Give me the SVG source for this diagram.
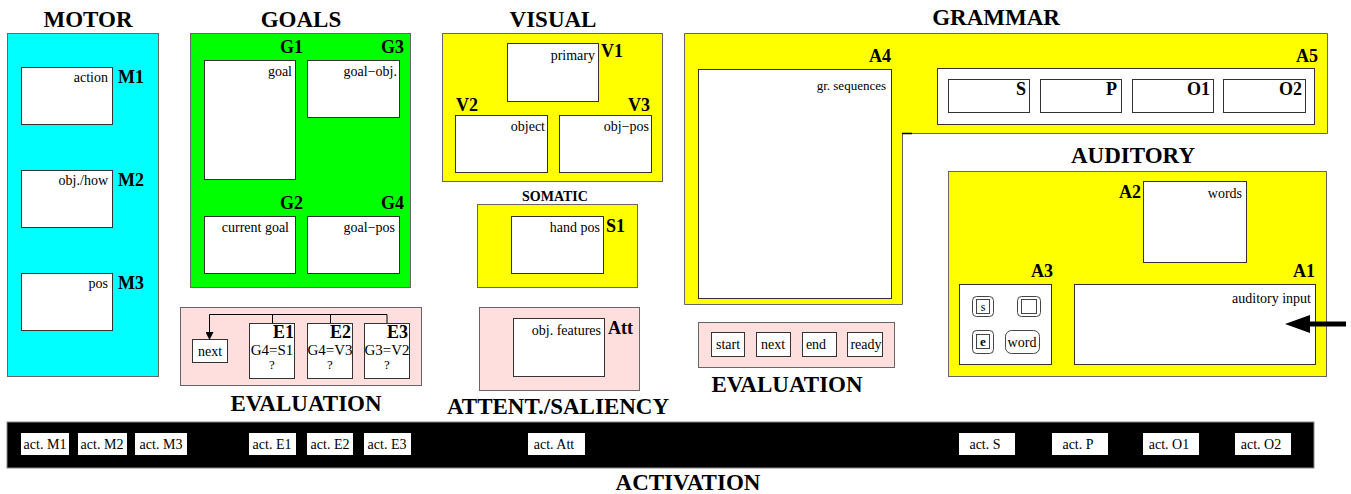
<svg xmlns="http://www.w3.org/2000/svg" width="1351" height="494" viewBox="0 0 1351 494">
<style>
text{font-family:'Liberation Serif','Times New Roman',serif}
.t{font-weight:bold;font-size:23px;fill:#000;text-anchor:middle}
.lb{font-weight:bold;font-size:18px;fill:#000}
.sm{font-size:14px;fill:#000}
.w{fill:#fff;stroke:#333;stroke-width:1}
.cy{fill:#00ffff;stroke:#666;stroke-width:1}
.gr{fill:#00ff00;stroke:#666;stroke-width:1}
.ye{fill:#ffff00;stroke:#666;stroke-width:1}
.pk{fill:#ffdede;stroke:#666;stroke-width:1}
.r{text-anchor:end}
.m{text-anchor:middle}
</style>
<defs>
<marker id="ah" markerWidth="8" markerHeight="8" refX="7" refY="4" orient="auto" markerUnits="userSpaceOnUse">
<path d="M0,0 L8,4 L0,8 Z" fill="#000"/>
</marker>
</defs>

<g id="motor">
<text class="t" x="88" y="27">MOTOR</text>
<rect class="cy" x="7.5" y="33.5" width="151" height="343"/>
<rect class="w" x="21.5" y="67.5" width="91" height="57"/>
<text class="sm r" x="108" y="82">action</text>
<text class="lb" x="118" y="83">M1</text>
<rect class="w" x="21.5" y="170.5" width="91" height="57"/>
<text class="sm r" x="108" y="185">obj./how</text>
<text class="lb" x="118" y="186">M2</text>
<rect class="w" x="21.5" y="273.5" width="91" height="57"/>
<text class="sm r" x="108" y="288">pos</text>
<text class="lb" x="118" y="289">M3</text>
</g>

<g id="goals">
<text class="t" x="301" y="27">GOALS</text>
<rect class="gr" x="190.5" y="33.5" width="220" height="254"/>
<text class="lb r" x="303" y="53">G1</text>
<text class="lb r" x="404" y="53">G3</text>
<rect class="w" x="204.5" y="60.5" width="91" height="119"/>
<text class="sm r" x="292" y="76">goal</text>
<rect class="w" x="307.5" y="60.5" width="92" height="57"/>
<text class="sm r" x="397" y="76">goal−obj.</text>
<text class="lb r" x="303" y="209">G2</text>
<text class="lb r" x="404" y="209">G4</text>
<rect class="w" x="204.5" y="216.5" width="91" height="57"/>
<text class="sm r" x="289" y="232">current goal</text>
<rect class="w" x="307.5" y="216.5" width="92" height="57"/>
<text class="sm r" x="395" y="232">goal−pos</text>
</g>

<g id="evaluation-left">
<rect class="pk" x="180.5" y="307.5" width="241" height="78"/>
<rect class="w" x="192.5" y="339.5" width="35" height="23"/>
<text class="sm m" x="210" y="356">next</text>
<rect class="w" x="249.5" y="323.5" width="45" height="55"/>
<text class="lb r" x="294" y="338">E1</text>
<text class="sm m" x="272" y="355" style="font-size:15px">G4=S1</text>
<text class="sm m" x="272" y="369" style="font-size:13px">?</text>
<rect class="w" x="307.5" y="323.5" width="45" height="55"/>
<text class="lb r" x="351" y="338">E2</text>
<text class="sm m" x="330" y="355" style="font-size:15px">G4=V3</text>
<text class="sm m" x="330" y="369" style="font-size:13px">?</text>
<rect class="w" x="364.5" y="323.5" width="45" height="55"/>
<text class="lb r" x="408" y="338">E3</text>
<text class="sm m" x="387" y="355" style="font-size:15px">G3=V2</text>
<text class="sm m" x="387" y="369" style="font-size:13px">?</text>
<text class="t" x="306" y="411">EVALUATION</text>
</g>

<g id="visual">
<text class="t" x="553" y="27">VISUAL</text>
<rect class="ye" x="442.5" y="33.5" width="220" height="148"/>
<rect class="w" x="507.5" y="43.5" width="91" height="58"/>
<text class="sm r" x="595" y="60">primary</text>
<text class="lb" x="601" y="57">V1</text>
<text class="lb" x="456" y="111">V2</text>
<text class="lb r" x="650" y="111">V3</text>
<rect class="w" x="455.5" y="115.5" width="92" height="57"/>
<text class="sm r" x="545" y="131">object</text>
<rect class="w" x="559.5" y="115.5" width="92" height="57"/>
<text class="sm r" x="649" y="131">obj−pos</text>
</g>

<g id="somatic">
<text class="t" x="555" y="201" style="font-size:14px">SOMATIC</text>
<rect class="ye" x="477.5" y="204.5" width="160" height="83"/>
<rect class="w" x="511.5" y="216.5" width="92" height="57"/>
<text class="sm r" x="600" y="232">hand pos</text>
<text class="lb" x="606" y="232">S1</text>
</g>

<g id="attention">
<rect class="pk" x="479.5" y="307.5" width="160" height="83"/>
<rect class="w" x="513.5" y="318.5" width="91" height="58"/>
<text class="sm r" x="601" y="335">obj. features</text>
<text class="lb" x="608" y="334">Att</text>
<text class="t" x="558" y="414">ATTENT./SALIENCY</text>
</g>

<g id="grammar">
<text class="t" x="996" y="25">GRAMMAR</text>
<polygon class="ye" points="684.5,33.5 1327.5,33.5 1327.5,133.5 902.5,133.5 902.5,304.5 684.5,304.5"/>
<line x1="902" y1="133.5" x2="912" y2="133.5" stroke="#000" stroke-width="1.5"/>
<text class="lb r" x="891" y="62">A4</text>
<rect class="w" x="698.5" y="69.5" width="193" height="229"/>
<text class="sm r" x="886" y="90" style="font-size:13px">gr. sequences</text>
<text class="lb r" x="1318" y="62">A5</text>
<rect class="w" x="937.5" y="68.5" width="377" height="56"/>
<rect class="w" x="948.5" y="79.5" width="81" height="33"/>
<text class="lb r" x="1026" y="95">S</text>
<rect class="w" x="1040.5" y="79.5" width="81" height="33"/>
<text class="lb r" x="1117" y="95">P</text>
<rect class="w" x="1132.5" y="79.5" width="81" height="33"/>
<text class="lb r" x="1210" y="95">O1</text>
<rect class="w" x="1223.5" y="79.5" width="82" height="33"/>
<text class="lb r" x="1302" y="95">O2</text>
</g>

<g id="auditory">
<text class="t" x="1133" y="163">AUDITORY</text>
<rect class="ye" x="948.5" y="171.5" width="378" height="205"/>
<text class="lb r" x="1141" y="198">A2</text>
<rect class="w" x="1143.5" y="181.5" width="103" height="81"/>
<text class="sm r" x="1242" y="198">words</text>
<text class="lb r" x="1053" y="277">A3</text>
<text class="lb r" x="1315" y="277">A1</text>
<rect class="w" x="959.5" y="284.5" width="92" height="80"/>
<rect class="w" x="1074.5" y="284.5" width="241" height="80"/>
<text class="sm r" x="1311" y="303">auditory input</text>
<rect x="972.5" y="296.5" width="21" height="20" rx="4" fill="#fff" stroke="#444"/>
<rect x="976.5" y="299.5" width="13" height="14" fill="#fff" stroke="#444"/>
<text class="sm m" x="983" y="311" style="font-size:12px">s</text>
<rect x="1017.5" y="296.5" width="23" height="20" rx="4" fill="#fff" stroke="#444"/>
<rect x="1021.5" y="299.5" width="15" height="14" fill="#fff" stroke="#444"/>
<rect x="972.5" y="330.5" width="21" height="23" rx="4" fill="#fff" stroke="#444"/>
<rect x="976.5" y="334.5" width="13" height="14" fill="#fff" stroke="#444"/>
<text class="sm m" x="983" y="346" style="font-size:13px;font-weight:bold">e</text>
<rect x="1005.5" y="330.5" width="34" height="23" rx="6" fill="#fff" stroke="#444"/>
<text class="sm m" x="1022" y="347">word</text>
</g>

<g id="evaluation-right">
<rect class="pk" x="698.5" y="322.5" width="196" height="45"/>
<rect class="w" x="711.5" y="332.5" width="33" height="24"/>
<text class="sm m" x="728" y="349">start</text>
<rect class="w" x="756.5" y="332.5" width="34" height="24"/>
<text class="sm m" x="773" y="349">next</text>
<rect class="w" x="802.5" y="332.5" width="34" height="24"/>
<text class="sm m" x="816" y="349">end</text>
<rect class="w" x="847.5" y="332.5" width="35" height="24"/>
<text class="sm m" x="866" y="349">ready</text>
<text class="t" x="787" y="392">EVALUATION</text>
</g>

<g id="activation">
<rect x="7" y="422" width="1307" height="46" fill="#000" stroke="#888"/>
<rect x="21" y="433" width="48" height="22" fill="#fff"/>
<text class="sm m" x="45" y="449">act. M1</text>
<rect x="78" y="433" width="49" height="22" fill="#fff"/>
<text class="sm m" x="102" y="449">act. M2</text>
<rect x="135" y="433" width="52" height="22" fill="#fff"/>
<text class="sm m" x="161" y="449">act. M3</text>
<rect x="249" y="433" width="47" height="22" fill="#fff"/>
<text class="sm m" x="272" y="449">act. E1</text>
<rect x="307" y="433" width="46" height="22" fill="#fff"/>
<text class="sm m" x="330" y="449">act. E2</text>
<rect x="364" y="433" width="47" height="22" fill="#fff"/>
<text class="sm m" x="387" y="449">act. E3</text>
<rect x="528" y="433" width="57" height="22" fill="#fff"/>
<text class="sm m" x="554" y="449">act. Att</text>
<rect x="959" y="433" width="56" height="22" fill="#fff"/>
<text class="sm m" x="985" y="449">act. S</text>
<rect x="1052" y="433" width="56" height="22" fill="#fff"/>
<text class="sm m" x="1078" y="449">act. P</text>
<rect x="1143" y="433" width="56" height="22" fill="#fff"/>
<text class="sm m" x="1169" y="449">act. O1</text>
<rect x="1235" y="433" width="56" height="22" fill="#fff"/>
<text class="sm m" x="1261" y="449">act. O2</text>
<text class="t" x="688" y="490">ACTIVATION</text>
</g>

<g id="connectors">
<path d="M387,323 V314.5 H209.5 V339" fill="none" stroke="#000" stroke-width="1" marker-end="url(#ah)"/>
<line x1="272.5" y1="314.5" x2="272.5" y2="323" stroke="#000"/>
<line x1="330.5" y1="314.5" x2="330.5" y2="323" stroke="#000"/>
<line x1="1346" y1="324" x2="1305" y2="324" stroke="#000" stroke-width="5"/>
<polygon points="1285,324 1310,315 1310,333" fill="#000"/>
</g>
</svg>
